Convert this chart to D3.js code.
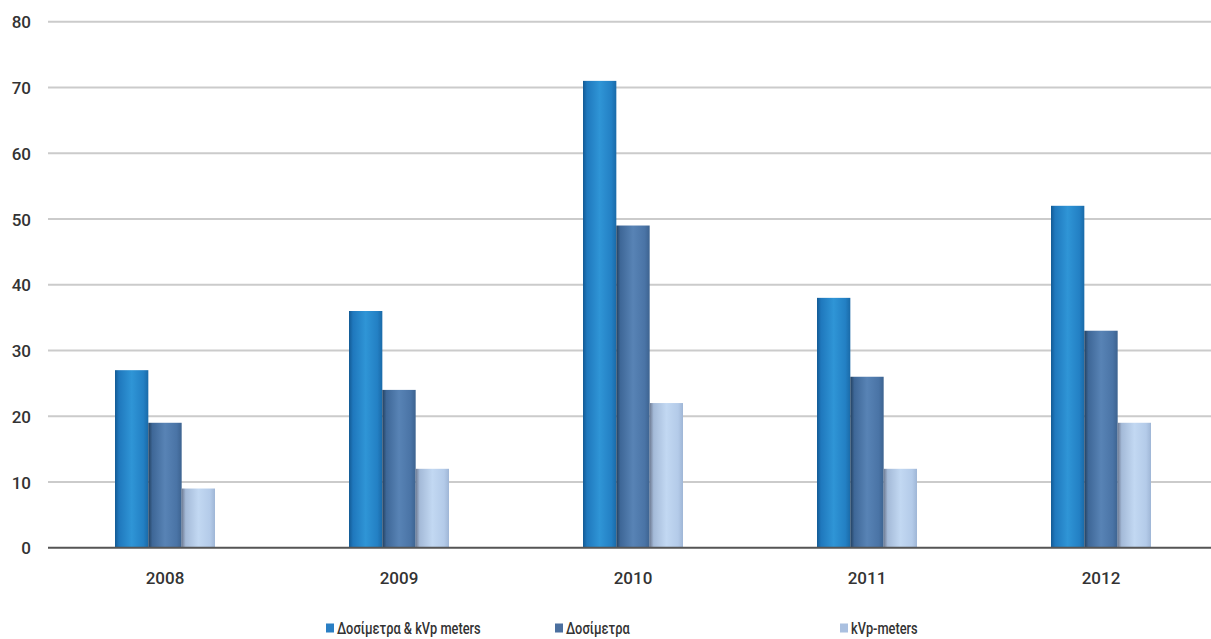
<!DOCTYPE html>
<html>
<head>
<meta charset="utf-8">
<script src="https://cdn.jsdelivr.net/npm/d3@7"></script>
<style>
  html, body { margin: 0; padding: 0; background: #fff; }
  svg { display: block; }
  .tick text { font-family: Roboto, "Liberation Sans", sans-serif; }
</style>
</head>
<body>
<svg id="chart" width="1211" height="639"></svg>
<script>
// Yearly counts per instrument type
const years = ["2008", "2009", "2010", "2011", "2012"];
const seriesNames = ["Δοσίμετρα & kVp meters", "Δοσίμετρα", "kVp-meters"];
const dosAndKvp = [27, 36, 71, 38, 52];
const dosimeters = [19, 24, 49, 26, 33];
const kvpMeters = [9, 12, 22, 12, 19];
const yTicks = [0, 10, 20, 30, 40, 50, 60, 70, 80];

const seriesValues = [dosAndKvp, dosimeters, kvpMeters];

// Colour stops for each series: dark edge, body, highlight, body, edge
const gradStops = [
  ["#135a94", "#1f78bd", "#2f95d6", "#2380c4", "#1a6aa8"],
  ["#22405f", "#3e6797", "#5883b5", "#4a74a6", "#3d6390"],
  ["#6d7a92", "#a4bad8", "#c2d8f2", "#b4cbe9", "#9fb6d6"]
];
const legendColors = ["#2a7fc4", "#4b6f9f", "#aac0e0"];

const svg = d3.select("#chart");
const width = 1211;

const x0 = d3.scaleBand().domain(years).range([48, 1218]).padding(0);
const groupWidth = 100;
const x1 = d3.scaleBand().domain(seriesNames).range([0, groupWidth]).padding(0);
const y = d3.scaleLinear().domain([0, 80]).range([547.7, 21.7]);

// Gradients
const defs = svg.append("defs");
gradStops.forEach((stops, i) => {
  const g = defs.append("linearGradient")
    .attr("id", "grad" + i)
    .attr("x1", "0%").attr("x2", "100%").attr("y1", "0%").attr("y2", "0%");
  const offs = [0, 0.12, 0.5, 0.85, 1];
  stops.forEach((c, k) => g.append("stop").attr("offset", offs[k]).attr("stop-color", c));
});

// Gridlines
const grid = svg.append("g");
grid.selectAll("line")
  .data(yTicks.filter(d => d > 0))
  .join("line")
  .attr("x1", 48).attr("x2", width)
  .attr("y1", d => y(d)).attr("y2", d => y(d))
  .attr("stroke", "#cbcbcb").attr("stroke-width", 2);

// Y axis labels
const yAxis = d3.axisLeft(y).tickValues(yTicks).tickSize(0).tickPadding(0).tickFormat(d3.format("d"));
const yG = svg.append("g").attr("transform", "translate(31,0)").call(yAxis);
yG.select(".domain").remove();
yG.selectAll("text")
  .attr("fill", "#333").attr("font-size", 17).attr("font-weight", 500)
  .attr("dy", "0.36em");

// Bars
const groups = svg.append("g").selectAll("g")
  .data(years)
  .join("g")
  .attr("transform", d => `translate(${x0(d) + (x0.bandwidth() - groupWidth) / 2},0)`);

groups.selectAll("rect")
  .data((yr, yi) => seriesNames.map((s, si) => ({ s, si, v: seriesValues[si][yi] })))
  .join("rect")
  .attr("x", d => x1(d.s))
  .attr("width", x1.bandwidth())
  .attr("y", d => y(d.v))
  .attr("height", d => y(0) - y(d.v))
  .attr("fill", d => `url(#grad${d.si})`);

// Baseline
svg.append("line")
  .attr("x1", 48).attr("x2", width)
  .attr("y1", y(0)).attr("y2", y(0))
  .attr("stroke", "#555").attr("stroke-width", 2);

// X axis labels
const xAxis = d3.axisBottom(x0).tickSize(0).tickPadding(0);
const xG = svg.append("g").attr("transform", `translate(0,${y(0)})`).call(xAxis);
xG.select(".domain").remove();
xG.selectAll("text")
  .attr("fill", "#333").attr("font-size", 17).attr("font-weight", 500)
  .attr("y", 30).attr("dy", "0.36em");

// Legend (condensed lettering)
const legendX = [326, 555, 840];
const legend = svg.append("g").selectAll("g")
  .data(seriesNames)
  .join("g")
  .attr("transform", (d, i) => `translate(${legendX[i]},628)`);
legend.append("rect")
  .attr("x", 0).attr("y", -4.5).attr("width", 8).attr("height", 9)
  .attr("fill", (d, i) => legendColors[i]);
legend.append("text")
  .attr("transform", "translate(11,0) scale(0.8,1)")
  .attr("dy", "0.36em")
  .attr("font-family", "Roboto, sans-serif")
  .attr("font-size", 16).attr("font-weight", 500)
  .attr("fill", "#333")
  .text(d => d);
</script>
</body>
</html>
